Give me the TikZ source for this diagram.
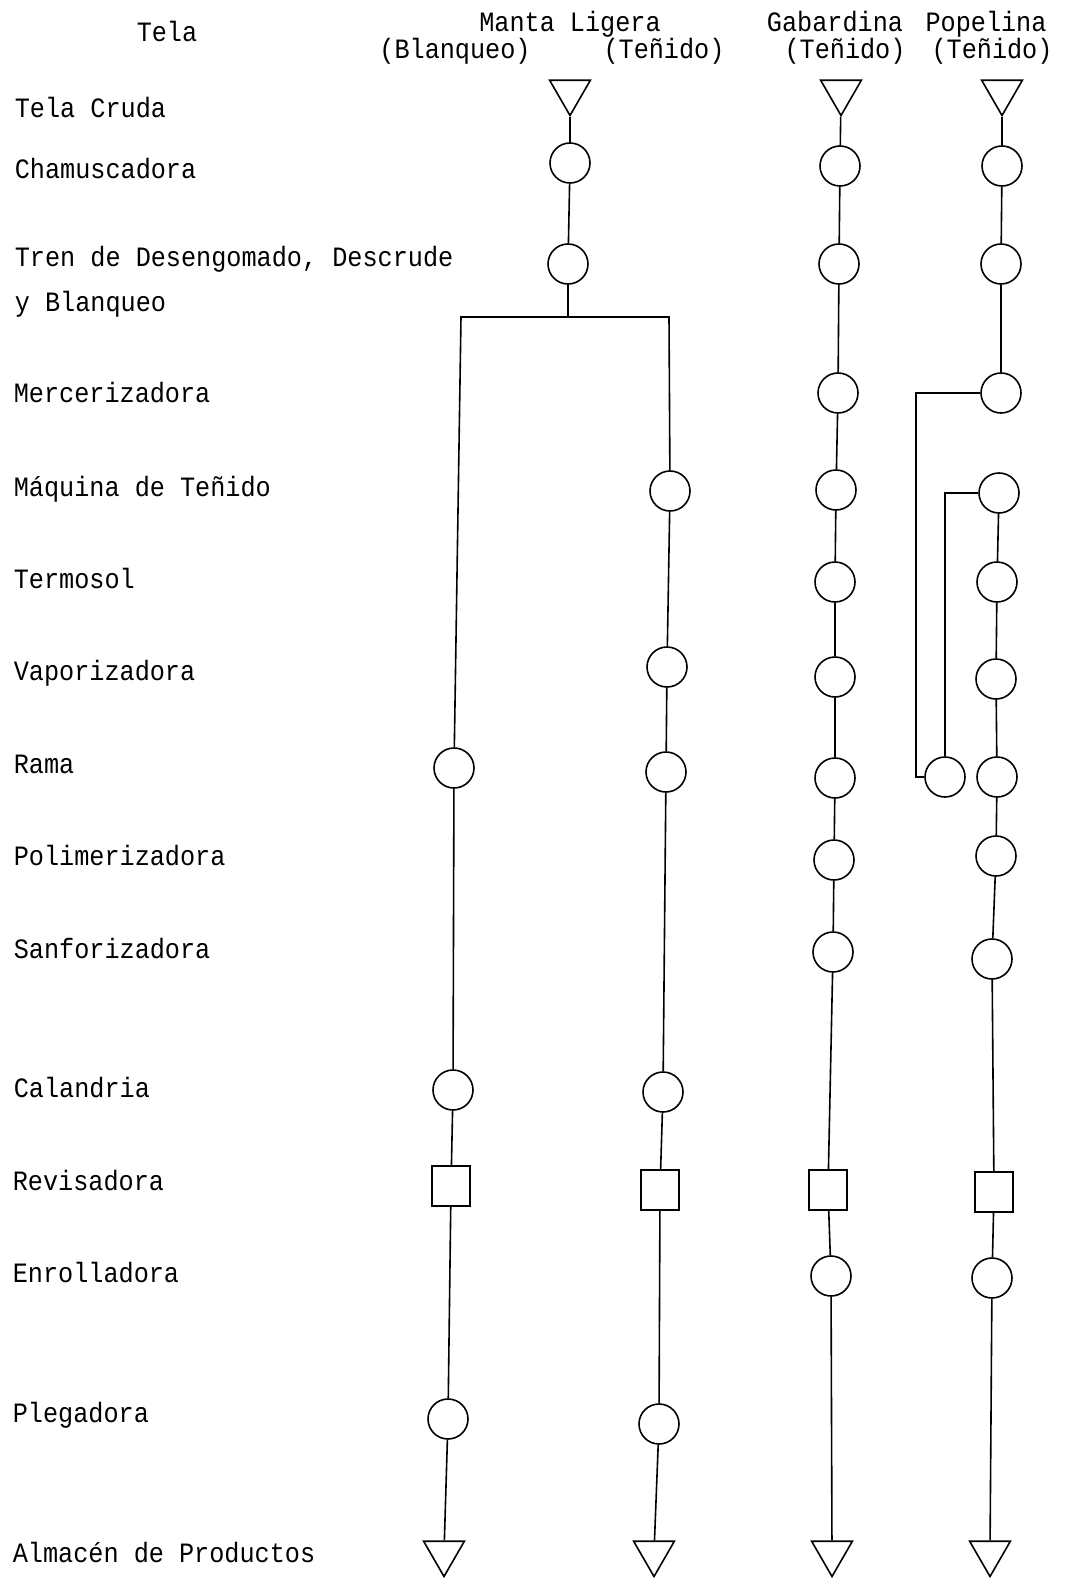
\documentclass[tikz,border=0pt]{standalone}
\usepackage{fontspec}
\setmonofont[FakeStretch=0.9]{Liberation Mono}
\usetikzlibrary{shapes.geometric}

\begin{document}
\begin{tikzpicture}[
  x=1pt, y=-1pt,
  font=\ttfamily\fontsize{28}{30}\selectfont,
  line width=1.6pt,
  op/.style={circle, draw, minimum size=40pt, inner sep=0pt},
  chk/.style={rectangle, draw, minimum width=38pt, minimum height=40pt, inner sep=0pt},
  sto/.style={regular polygon, regular polygon sides=3, shape border rotate=180, draw, minimum size=47pt, inner sep=0pt},
  lbl/.style={anchor=west, inner sep=0pt, text height=16pt, text depth=5pt, yshift=-4pt},
  hd/.style={inner sep=0pt, text height=16pt, text depth=5pt, yshift=-4pt}
]
\useasboundingbox (0,0) rectangle (1065,1578);

% headings
\node[hd] (hTela) at (167,32) {Tela};
\node[hd] (hManta) at (570,22) {Manta Ligera};
\node[hd] (hBlq) at (455,49) {(Blanqueo)};
\node[hd] (hTen) at (664,49) {(Teñido)};
\node[hd] (hGab) at (835,22) {Gabardina};
\node[hd] (hGabT) at (845,49) {(Teñido)};
\node[hd] (hPop) at (986,22) {Popelina};
\node[hd] (hPopT) at (992,49) {(Teñido)};

% operations
\node[lbl] (lCru) at (14,108) {Tela Cruda};
\node[lbl] (lCha) at (14,169) {Chamuscadora};
\node[lbl] (lTre) at (14,257) {Tren de Desengomado, Descrude};
\node[lbl] (lTre2) at (14,302) {y Blanqueo};
\node[lbl] (lMer) at (13,393) {Mercerizadora};
\node[lbl] (lMaq) at (13,487) {Máquina de Teñido};
\node[lbl] (lTer) at (13,579) {Termosol};
\node[lbl] (lVap) at (13,671) {Vaporizadora};
\node[lbl] (lRam) at (13,764) {Rama};
\node[lbl] (lPol) at (13,856) {Polimerizadora};
\node[lbl] (lSan) at (13,949) {Sanforizadora};
\node[lbl] (lCal) at (13,1088) {Calandria};
\node[lbl] (lRev) at (12,1181) {Revisadora};
\node[lbl] (lEnr) at (12,1273) {Enrolladora};
\node[lbl] (lPle) at (12,1413) {Plegadora};
\node[lbl] (lAlm) at (12,1553) {Almacén de Productos};

% manta ligera
\node[sto] (mS) at (570,92) {};
\node[op] (mC) at (570,163) {};
\node[op] (mT) at (568,264) {};
\coordinate (br) at (568,317);
\coordinate (brL) at (461,317);
\coordinate (brR) at (669,317);

\node[op] (bRa) at (454,768) {};
\node[op] (bCa) at (453,1090) {};
\node[chk] (bRe) at (451,1186) {};
\node[op] (bPl) at (448,1419) {};
\node[sto] (bS) at (444,1553) {};

\node[op] (tMq) at (670,491) {};
\node[op] (tVa) at (667,667) {};
\node[op] (tRa) at (666,772) {};
\node[op] (tCa) at (663,1092) {};
\node[chk] (tRe) at (660,1190) {};
\node[op] (tPl) at (659,1424) {};
\node[sto] (tS) at (654,1553) {};

\draw (mS) -- (mC) -- (mT) -- (br);
\draw (bRa) -- (brL) -- (brR) -- (tMq);
\draw (bRa) -- (bCa) -- (bRe) -- (bPl) -- (bS);
\draw (tMq) -- (tVa) -- (tRa) -- (tCa) -- (tRe) -- (tPl) -- (tS);

% gabardina
\node[sto] (gS) at (841,92) {};
\node[op] (gCh) at (840,166) {};
\node[op] (gTr) at (839,264) {};
\node[op] (gMe) at (838,393) {};
\node[op] (gMq) at (836,490) {};
\node[op] (gTe) at (835,582) {};
\node[op] (gVa) at (835,677) {};
\node[op] (gRa) at (835,778) {};
\node[op] (gPo) at (834,860) {};
\node[op] (gSa) at (833,952) {};
\node[chk] (gRe) at (828,1190) {};
\node[op] (gEn) at (831,1276) {};
\node[sto] (gE) at (832,1553) {};
\draw (gS) -- (gCh) -- (gTr) -- (gMe) -- (gMq) -- (gTe) -- (gVa) -- (gRa) -- (gPo) -- (gSa) -- (gRe) -- (gEn) -- (gE);

% popelina
\node[sto] (pS) at (1002,92) {};
\node[op] (pCh) at (1002,166) {};
\node[op] (pTr) at (1001,264) {};
\node[op] (pMe) at (1001,393) {};
\node[op] (pMq) at (999,493) {};
\node[op] (pTe) at (997,582) {};
\node[op] (pVa) at (996,679) {};
\node[op] (pRa) at (997,777) {};
\node[op] (pLoop) at (945,777) {};
\node[op] (pPo) at (996,856) {};
\node[op] (pSa) at (992,959) {};
\node[chk] (pRe) at (994,1192) {};
\node[op] (pEn) at (992,1278) {};
\node[sto] (pE) at (990,1553) {};
\coordinate (pOut) at (916,393);
\draw (pS) -- (pCh) -- (pTr) -- (pMe);
\draw (pMq) -- (pTe) -- (pVa) -- (pRa) -- (pPo) -- (pSa) -- (pRe) -- (pEn) -- (pE);
\draw (pMe) -- (pOut) |- (pLoop);
\draw (pMq) -| (pLoop);
\end{tikzpicture}
\end{document}
